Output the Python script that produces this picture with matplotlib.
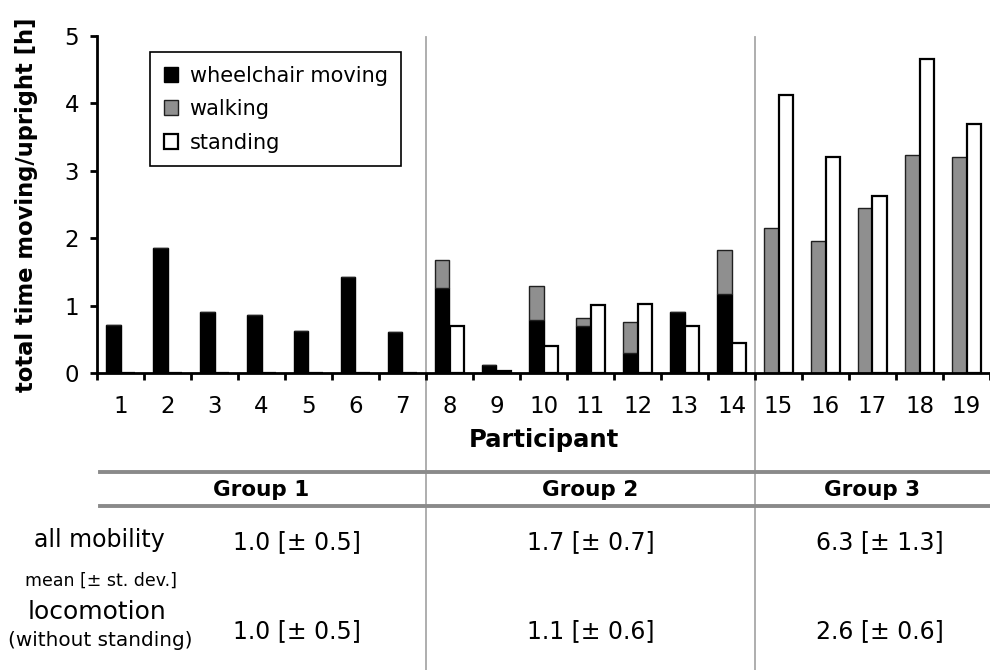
import matplotlib.pyplot as plt
from matplotlib.transforms import blended_transform_factory

plt.rcParams['font.family'] = ['DejaVu Sans']

# Dados (horas)
participants = ['1', '2', '3', '4', '5', '6', '7', '8', '9', '10',
                '11', '12', '13', '14', '15', '16', '17', '18', '19']
wheelchair = [0.71, 1.85, 0.91, 0.86, 0.63, 1.43, 0.61, 1.26, 0.12, 0.79,
              0.69, 0.30, 0.90, 1.17, 0.0, 0.0, 0.0, 0.0, 0.0]
walking = [0.0, 0.0, 0.0, 0.0, 0.0, 0.0, 0.0, 0.41, 0.0, 0.50,
           0.13, 0.45, 0.0, 0.66, 2.15, 1.96, 2.45, 3.23, 3.20]
standing = [0.0, 0.0, 0.0, 0.0, 0.0, 0.0, 0.0, 0.70, 0.03, 0.40,
            1.01, 1.02, 0.70, 0.44, 4.12, 3.20, 2.62, 4.66, 3.70]

# Tabela de médias
group_names = ['Group 1', 'Group 2', 'Group 3']
group_bounds = [(-0.5, 6.5), (6.5, 13.5), (13.5, 18.5)]
all_mobility = ['1.0 [± 0.5]', '1.7 [± 0.7]', '6.3 [± 1.3]']
locomotion = ['1.0 [± 0.5]', '1.1 [± 0.6]', '2.6 [± 0.6]']

fig = plt.figure(figsize=(9.9, 6.7), dpi=100)
ax = fig.add_axes([97 / 990, 1 - 373 / 670, 893 / 990, 337 / 670])

x = list(range(len(participants)))
w = 0.3
xl = [i - w / 2 for i in x]
xr = [i + w / 2 for i in x]

ax.bar(xl, wheelchair, width=w, color='black', edgecolor='black',
       linewidth=1, label='wheelchair moving')
ax.bar(xl, walking, bottom=wheelchair, width=w, color='#8f8f8f',
       edgecolor='#202020', linewidth=1, label='walking')
ax.bar(xr, standing, width=w, color='white', edgecolor='black',
       linewidth=1.6, label='standing')

ax.set_xlim(-0.5, 18.5)
ax.set_ylim(0, 5)
ax.set_xticks(x)
ax.set_xticklabels(participants, fontsize=16.5)
ax.set_xticks([i + 0.5 for i in range(-1, 19)], minor=True)
ax.tick_params(axis='x', which='major', length=0, pad=16)
ax.tick_params(axis='x', which='minor', length=5, width=2, direction='out')
ax.set_yticks([0, 1, 2, 3, 4, 5])
ax.tick_params(axis='y', labelsize=16.5, length=5, width=2, direction='out',
               pad=8)
for s in ['top', 'right']:
    ax.spines[s].set_visible(False)
for s in ['left', 'bottom']:
    ax.spines[s].set_linewidth(2)

ax.set_ylabel('total time moving/upright [h]', fontsize=16.3, fontweight='bold')
ax.yaxis.set_label_coords(38 / 990, 0.5)
ax.yaxis.label.set_transform(blended_transform_factory(fig.transFigure,
                                                       ax.transAxes))
ax.set_xlabel('Participant', fontsize=17.5, fontweight='bold')
ax.xaxis.set_label_coords(0.5, 1 - 440 / 670)
ax.xaxis.label.set_transform(blended_transform_factory(ax.transAxes,
                                                       fig.transFigure))
ax.xaxis.label.set_va('center')

leg = ax.legend(loc='upper left', bbox_to_anchor=(53 / 893, 321 / 337),
                fontsize=15, fancybox=False, edgecolor='black',
                framealpha=1, handlelength=0.7, handleheight=0.7,
                borderpad=0.65, labelspacing=0.65, handletextpad=0.55,
                borderaxespad=0)
leg.get_frame().set_linewidth(1.2)

# Linhas verticais separando os grupos (descem até a tabela)
tr = blended_transform_factory(ax.transData, fig.transFigure)
for xs in [6.5, 13.5]:
    ax.plot([xs, xs], [0, 1 - 37 / 670], color='#a8a8a8', linewidth=1.3,
            transform=tr, clip_on=False, zorder=0)

# Tabela
for yy in [1 - 472 / 670, 1 - 506 / 670]:
    fig.add_artist(plt.Line2D([100 / 990, 1.0], [yy, yy], color='#8a8a8a',
                              linewidth=2.8))

for name, (a, b) in zip(group_names, group_bounds):
    ax.text((a + b) / 2, 1 - 490 / 670, name, transform=tr, fontsize=15.5,
            fontweight='bold', ha='center', va='center')

value_x = [3.75, 10.0, 16.15]
for v, xv in zip(all_mobility, value_x):
    ax.text(xv, 1 - 542 / 670, v, transform=tr, fontsize=17,
            ha='center', va='center')
for v, xv in zip(locomotion, value_x):
    ax.text(xv, 1 - 631 / 670, v, transform=tr, fontsize=17,
            ha='center', va='center')

fig.text(99 / 990, 1 - 540 / 670, 'all mobility', fontsize=17,
         ha='center', va='center')
fig.text(101 / 990, 1 - 581 / 670, 'mean [± st. dev.]', fontsize=12.5,
         ha='center', va='center')
fig.text(97 / 990, 1 - 612 / 670, 'locomotion', fontsize=18,
         ha='center', va='center')
fig.text(100 / 990, 1 - 641 / 670, '(without standing)', fontsize=14.4,
         ha='center', va='center')

fig.savefig('out.png', dpi=100)
